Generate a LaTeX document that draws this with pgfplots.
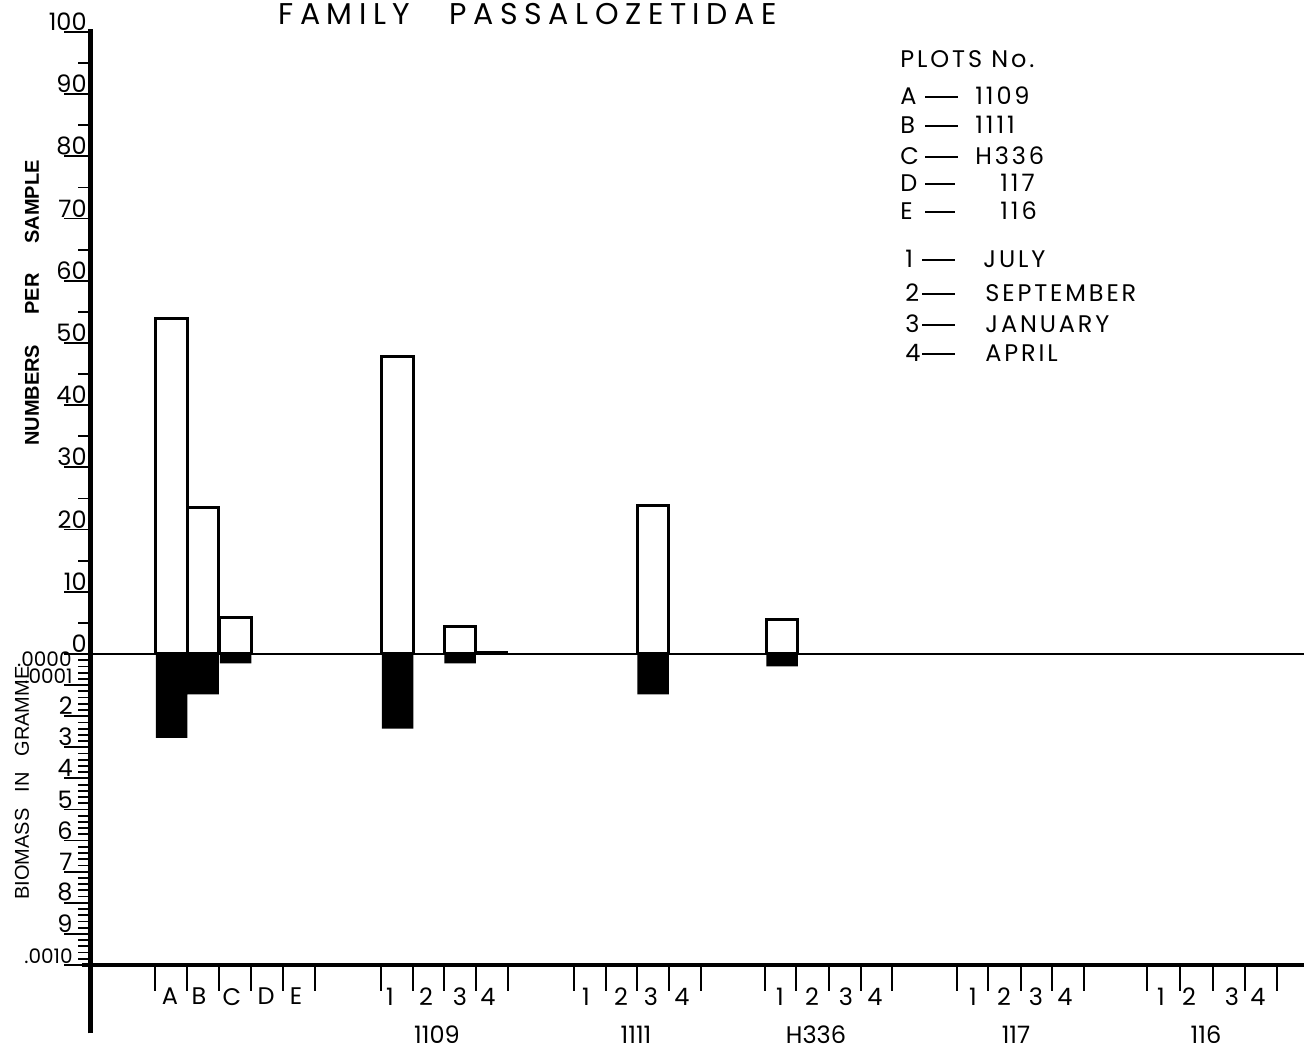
\documentclass[border=0pt]{standalone}
\usepackage{pgfplots}
\pgfplotsset{compat=1.18}
\usepackage{pgfplotstable}
\usepackage{fontspec}
\setmainfont{Poppins}
\newfontfamily\titlefont{Poppins}[LetterSpace=22]
\newfontfamily\legfont{Poppins}[LetterSpace=12]
\newfontfamily\labfont{Liberation Sans}
\newcommand\sm{\fontsize{10}{10}\selectfont}

% x = bar centre (same units as the horizontal scale), n = numbers per sample,
% b = biomass in units of 0.0001 g
\pgfplotstableread{
x     n     b
171.5 54.0  2.7
203   23.6  1.3
235.5 5.8   0.3
397.5 47.8  2.4
460   4.5   0.3
491   0.3   0
653   23.8  1.3
782   5.6   0.4
}\bars

\begin{document}
\begin{tikzpicture}
\useasboundingbox (0,0) rectangle (652pt,526pt);
\begin{axis}[
  at={(45pt,43.5pt)}, anchor=south west,
  scale only axis, width=607pt, height=466.5pt,
  xmin=90, xmax=1304, ymin=-50, ymax=100,
  clip=false,
  axis x line*=bottom, axis y line*=left,
  axis line style={draw=none},
  tick align=outside,
  major tick length=13pt, minor tick length=6pt,
  every tick/.style={black, line width=0.9pt},
  xtick={155,187,219,251,283,315,381,413,444,476,508,574,606,637,669,701,765,796,829,861,892,957,988,1021,1052,1084,1147,1180,1213,1245,1277},
  xticklabels={},
  extra x ticks={170,199,232,266,296,390,426,460,488,586,621,651,682,780,812,846,875,973,1004,1036,1065,1161,1189,1232,1258},
  extra x tick labels={A,B,C,D,E,1,2,3,4,1,2,3,4,1,2,3,4,1,2,3,4,1,2,3,4},
  extra x tick style={major tick length=0pt, xticklabel style={font=\fontsize{12}{12}\selectfont, yshift=-8pt}},
  ytick={0,10,20,30,40,50,60,70,80,90,100},
  yticklabels={0,10,20,30,40,50,60,70,80,90,100},
  yticklabel style={anchor=south east, inner sep=0.5pt, xshift=12pt, font=\fontsize{12}{12}\selectfont},
  minor ytick={5,15,25,35,45,55,65,75,85,95,-1,-2,-3,-4,-6,-7,-8,-9,-11,-12,-13,-14,-16,-17,-18,-19,-21,-22,-23,-24,-26,-27,-28,-29,-31,-32,-33,-34,-36,-37,-38,-39,-41,-42,-43,-44,-46,-47,-48,-49},
  extra y ticks={-50,-45,-40,-35,-30,-25,-20,-15,-10,-5},
  extra y tick labels={{\sm .0010},9,8,7,6,5,4,3,2,{\sm .0001}},
  extra y tick style={yticklabel style={xshift=-7pt}},
]
\addplot[ybar, bar width=31.5, bar shift=0pt, draw=black, line width=1.5pt, fill=white] table[x=x, y=n] {\bars};
\draw[line width=1pt] (axis cs:90,0) -- (axis cs:1304,0);
\addplot[ybar, bar width=31.5, bar shift=0pt, draw=none, fill=black] table[x=x, y expr=-5*\thisrow{b}] {\bars};
\draw[line width=2.5pt] (axis cs:90,-61) -- (axis cs:90,100.5);
\draw[line width=2pt] (axis cs:82,-50) -- (axis cs:1304,-50);
\node[anchor=north east, inner sep=0pt, font=\sm] at (axis cs:90,0.4) [xshift=-9pt] {.0000};
\end{axis}
\begin{scope}[x=0.5pt, y=-0.5pt, shift={(0,526pt)}]
  \node[anchor=base west, inner sep=0pt, font=\titlefont\fontsize{15}{15}\selectfont] at (278,25) {FAMILY\hspace{1.3em}PASSALOZETIDAE};
  \node[rotate=90, font=\labfont\bfseries\fontsize{10}{10}\selectfont] at (32,303) {NUMBERS\hspace{1.5em}PER\hspace{1.5em}SAMPLE};
  \node[rotate=90, font=\labfont\fontsize{10}{10}\selectfont] at (22,783) {BIOMASS\hspace{0.8em}IN\hspace{0.8em}GRAMME};
  \foreach \x/\t in {437/1109, 636/1111, 816/H336, 1016/117, 1206/116}
    \node[anchor=base, inner sep=0pt, font=\fontsize{12}{12}\selectfont] at (\x,1044) {\t};
  \begin{scope}[every node/.style={anchor=base west, inner sep=0pt, font=\legfont\fontsize{12}{12}\selectfont}]
    \node at (900,68) {PLOTS No.};
    \foreach \l/\d/\v/\vx/\y in {A/958/1109/975/105, B/958/1111/975/134, C/958/H336/975/165, D/955/117/1000/192, E/955/116/1000/220}{
      \node at (900,\y) {\l};
      \draw[line width=1pt] (925,\y-8) -- (\d,\y-8);
      \node at (\vx,\y) {\v};
    }
    \foreach \l/\v/\vx/\y in {1/JULY/983/268, 2/SEPTEMBER/985/302, 3/JANUARY/985/333, 4/APRIL/985/362}{
      \node at (905,\y) {\l};
      \draw[line width=1pt] (922,\y-8) -- (955,\y-8);
      \node at (\vx,\y) {\v};
    }
  \end{scope}
\end{scope}
\end{tikzpicture}
\end{document}
